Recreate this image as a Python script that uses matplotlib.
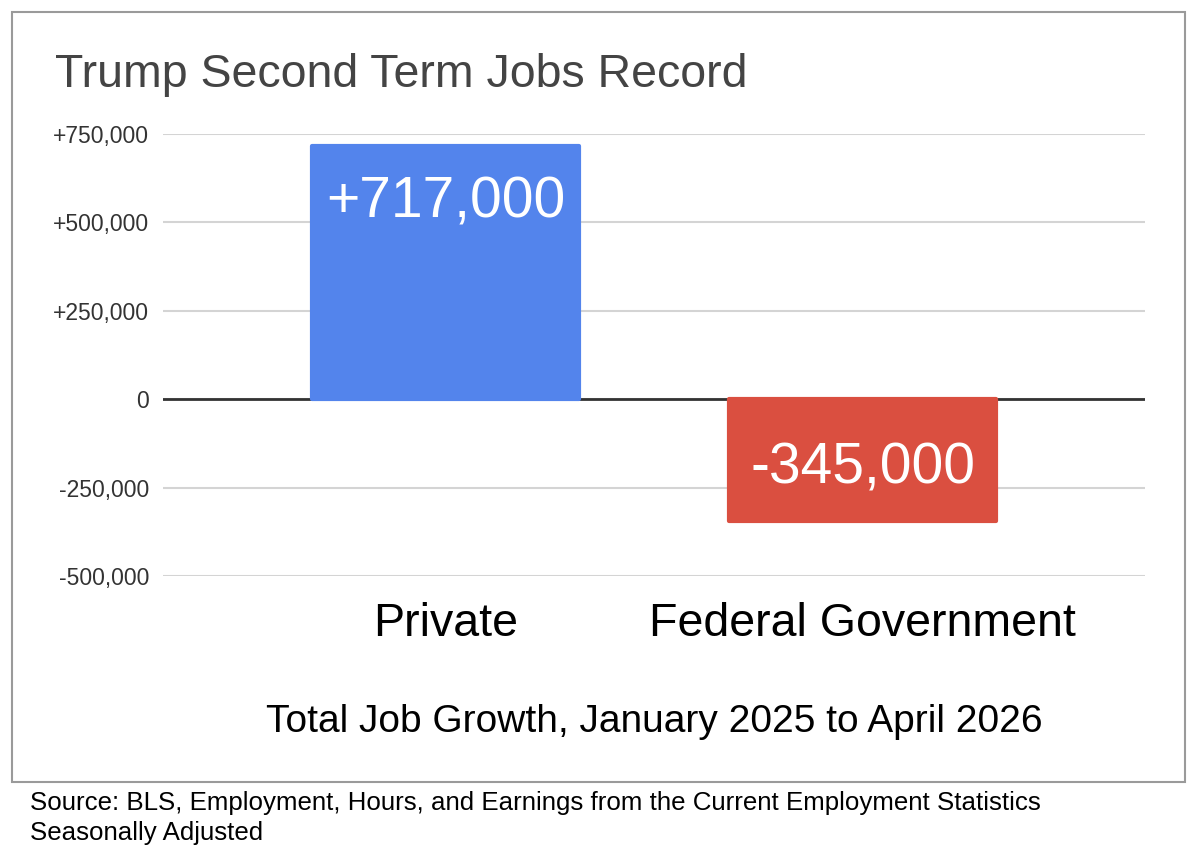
import matplotlib
matplotlib.use("Agg")
import matplotlib.pyplot as plt
from matplotlib.patches import Rectangle
from matplotlib.ticker import FuncFormatter

plt.rcParams["font.family"] = ["Liberation Sans", "DejaVu Sans"]

# data
categories = ["Private", "Federal Government"]
job_change = [717000, -345000]
value_labels = ["+717,000", "-345,000"]
bar_colors = ["#5384EC", "#DA4F40"]
y_ticks = [-500000, -250000, 0, 250000, 500000, 750000]

fig = plt.figure(figsize=(12, 8.64), dpi=100)
ax = fig.add_axes([163 / 1200, 1 - 576 / 864, (1145 - 163) / 1200, (576 - 134) / 864])

# outer frame like the sheets chart
fig.patches.append(Rectangle((12 / 1200, 1 - 782 / 864), (1185 - 12) / 1200, (782 - 12) / 864,
                             transform=fig.transFigure, fill=False, edgecolor="#9a9a9a",
                             linewidth=1.5))

x = list(range(len(categories)))
bars = ax.bar(x, job_change, width=0.64, color=bar_colors, edgecolor=bar_colors,
              linewidth=3, joinstyle="round", zorder=3)

for b, lab, v in zip(bars, value_labels, job_change):
    yc = v - 161000 if v > 0 else v + 148000
    ax.text(b.get_x() + b.get_width() / 2, yc, lab, ha="center", va="center",
            color="white", fontsize=41, zorder=4)

ax.set_xlim(-0.677, 1.677)
ax.set_ylim(-500000, 750000)
ax.set_yticks(y_ticks)
ax.yaxis.set_major_formatter(FuncFormatter(lambda v, p: "0" if v == 0 else f"{v:+,.0f}"))
ax.set_xticks(x)
ax.set_xticklabels(categories, fontsize=33.5, color="black")
ax.tick_params(axis="x", length=0, pad=19)
ax.tick_params(axis="y", length=0, pad=10, labelsize=16.5, labelcolor="#333333")

ax.grid(axis="y", color="#d4d4d4", linewidth=1.5, zorder=0)
ax.axhline(0, color="#333333", linewidth=2, zorder=2)
for s in ax.spines.values():
    s.set_visible(False)

fig.text(55 / 1200, 1 - 75 / 864, "Trump Second Term Jobs Record", fontsize=33.5,
         color="#444444", va="center", ha="left")
fig.text(654 / 1200, 1 - 722 / 864, "Total Job Growth, January 2025 to April 2026",
         fontsize=28, color="black", ha="center", va="center")
fig.text(30 / 1200, 1 - 803 / 864,
         "Source: BLS, Employment, Hours, and Earnings from the Current Employment Statistics",
         fontsize=18.6, color="black", ha="left", va="center")
fig.text(30 / 1200, 1 - 833 / 864, "Seasonally Adjusted", fontsize=18.6, color="black",
         ha="left", va="center")

fig.savefig("out.png", dpi=100, facecolor="white")
